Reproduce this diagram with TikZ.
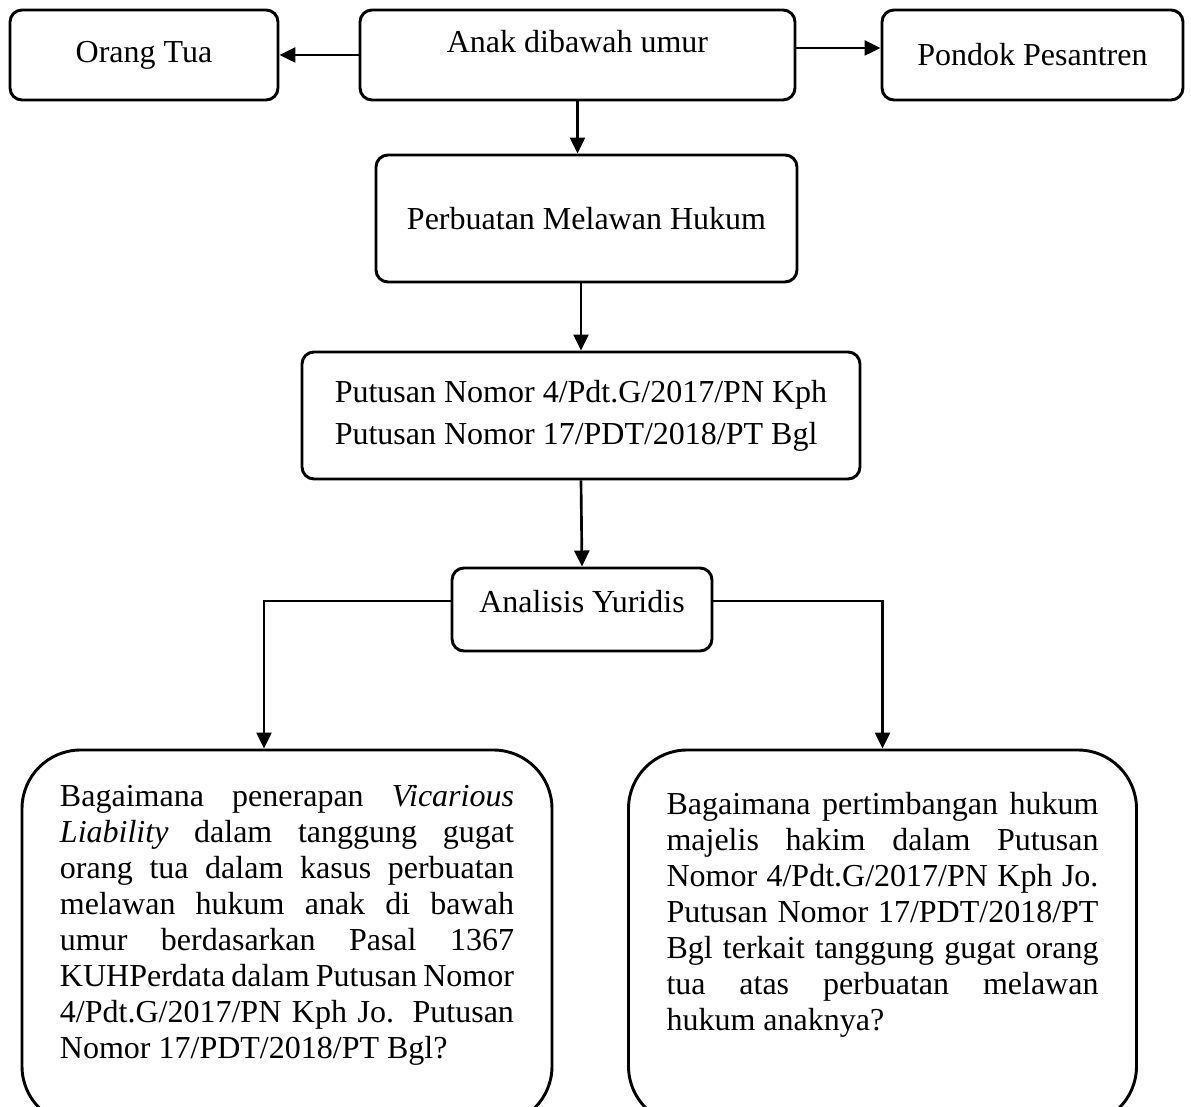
\documentclass[tikz,border=0pt]{standalone}
\usepackage{fontspec}
\setmainfont{Liberation Serif}
\usetikzlibrary{arrows.meta,calc}

\begin{document}
\begin{tikzpicture}[x=0.375pt,y=-0.375pt,
  box/.style={draw, line width=1.1pt, rounded corners=4.5pt, inner sep=0pt, font=\fontsize{12}{13.5}\selectfont},
  qbox/.style={draw, line width=1.1pt, rounded corners=22pt, inner ysep=0pt, inner xsep=14.25pt, align=justify, font=\fontsize{12}{13.5}\selectfont},
  arr/.style={line width=1pt, -{Triangle[length=6pt,width=5.6pt]}}]
\def\PX{0.375pt}
\useasboundingbox (0,0) rectangle (1191,1107);
\clip (0,0) rectangle (1191,1107);

\node[box, minimum width=268*\PX, minimum height=90*\PX] (ortu) at (144,55) {Orang Tua};
\node[box, anchor=base, minimum width=435*\PX, text height=43*\PX, text depth=47*\PX] (anak) at (577.5,53) {Anak dibawah umur};
\node[box, minimum width=301*\PX, minimum height=90*\PX] (pondok) at (1032.5,55) {Pondok Pesantren};
\node[box, minimum width=421*\PX, minimum height=127*\PX] (perb) at (586.5,218.5) {Perbuatan Melawan Hukum};
\node[box, align=left, minimum width=558*\PX, minimum height=127*\PX, font=\fontsize{12}{15.75}\selectfont] (putusan) at (581,415.5)
  {Putusan Nomor 4/Pdt.G/2017/PN Kph\\Putusan Nomor 17/PDT/2018/PT Bgl};
\node[box, anchor=base, minimum width=260*\PX, text height=45*\PX, text depth=38*\PX] (ana) at (582,613) {Analisis Yuridis};

\node[qbox, anchor=base, text width=454*\PX, text height=57*\PX, text depth=318*\PX] (q1) at (287,807)
  {\hyphenpenalty=10000\exhyphenpenalty=10000
   Bagaimana penerapan \textit{Vicarious}\linebreak
   \textit{Liability} dalam tanggung gugat\linebreak
   orang tua dalam kasus perbuatan\linebreak
   melawan hukum anak di bawah\linebreak
   umur berdasarkan Pasal 1367\linebreak
   KUHPerdata dalam Putusan Nomor\linebreak
   4/Pdt.G/2017/PN Kph Jo. Putusan\linebreak
   Nomor 17/PDT/2018/PT Bgl?};
\node[qbox, anchor=base, text width=432*\PX, text height=65*\PX, text depth=310*\PX] (q2) at (882.5,815)
  {\hyphenpenalty=10000\exhyphenpenalty=10000
   Bagaimana pertimbangan hukum\linebreak
   majelis hakim dalam Putusan\linebreak
   Nomor 4/Pdt.G/2017/PN Kph Jo.\linebreak
   Putusan Nomor 17/PDT/2018/PT\linebreak
   Bgl terkait tanggung gugat orang\linebreak
   tua atas perbuatan melawan\linebreak
   hukum anaknya?};

\draw[arr] (anak.west) -- (ortu.east);
\draw[arr] ([yshift=7*\PX]anak.east) -- ([yshift=7*\PX]pondok.west);
\draw[arr] (anak.south) -- (anak.south |- perb.north);
\draw[arr] (putusan.north |- perb.south) -- (putusan.north);
\draw[arr] (putusan.south) -- (ana.north);
\draw[arr] ([yshift=8.5*\PX]ana.west) -| ($(q1.north)+(-23,0)$);
\draw[arr] ([yshift=8.5*\PX]ana.east) -| (q2.north);
\end{tikzpicture}
\end{document}
